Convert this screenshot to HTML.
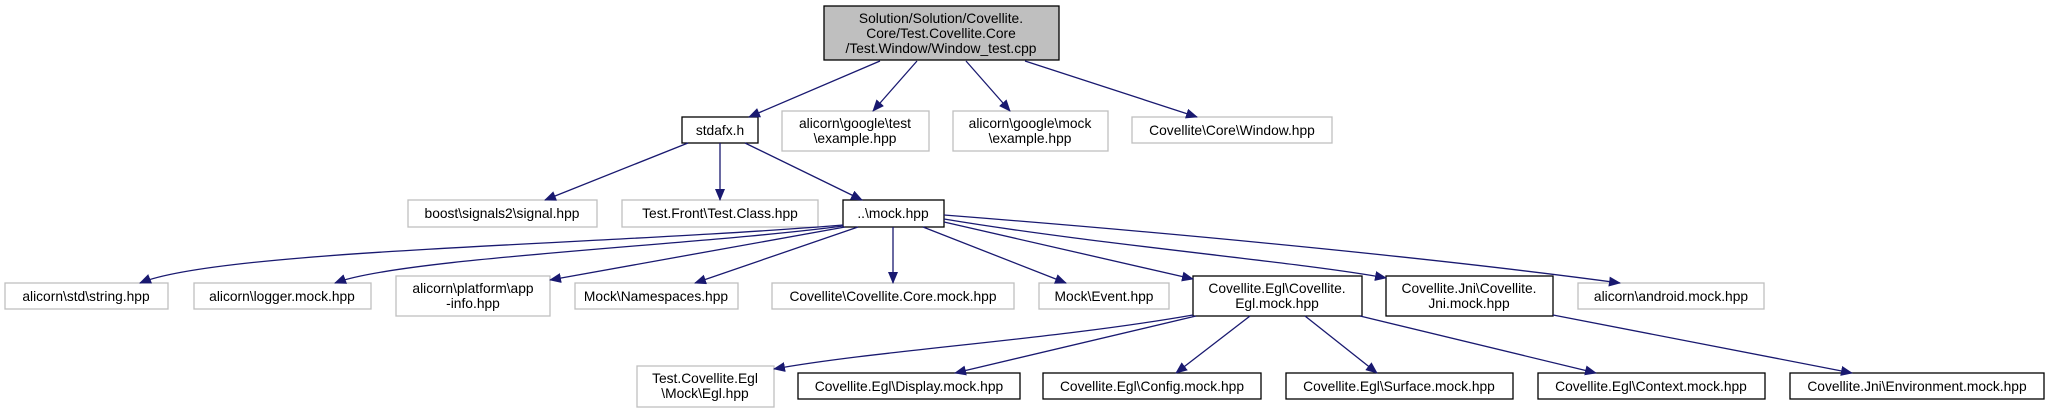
<!DOCTYPE html>
<html><head><meta charset="utf-8"><style>
html,body{margin:0;padding:0;background:#fff;}
svg{display:block}
text{font-family:"Liberation Sans",sans-serif;font-size:13.8px;fill:#000;text-anchor:middle}
.g{fill:#fff;stroke:#bfbfbf;stroke-width:1.3}
.b{fill:#fff;stroke:#000;stroke-width:1.3}
.e{fill:none;stroke:#191970;stroke-width:1.3;marker-end:url(#a)}
</style></head><body>
<svg width="2049" height="413" viewBox="0 0 2049 413">
<defs><marker id="a" markerWidth="12" markerHeight="10" refX="11" refY="5" orient="auto" markerUnits="userSpaceOnUse"><path d="M0,0 L12,5 L0,10 z" fill="#191970"/></marker></defs>
<rect x="824" y="6" width="235" height="54" fill="#bfbfbf" stroke="#000" stroke-width="1.3"/>
<text x="941" y="23">Solution/Solution/Covellite.</text>
<text x="941" y="38">Core/Test.Covellite.Core</text>
<text x="941" y="53">/Test.Window/Window_test.cpp</text>

<rect class="b" x="682" y="117" width="76" height="26"/><text x="720" y="135">stdafx.h</text>
<rect class="g" x="782" y="111" width="147" height="40"/><text x="855" y="128">alicorn\google\test</text><text x="855" y="143">\example.hpp</text>
<rect class="g" x="953" y="111" width="155" height="40"/><text x="1030" y="128">alicorn\google\mock</text><text x="1030" y="143">\example.hpp</text>
<rect class="g" x="1132" y="117" width="200" height="26"/><text x="1232" y="135">Covellite\Core\Window.hpp</text>

<rect class="g" x="408" y="200" width="189" height="27"/><text x="502" y="218">boost\signals2\signal.hpp</text>
<rect class="g" x="622" y="200" width="196" height="27"/><text x="720" y="218">Test.Front\Test.Class.hpp</text>
<rect class="b" x="843" y="200" width="101" height="27"/><text x="893" y="218">..\mock.hpp</text>

<rect class="g" x="5" y="283" width="163" height="26"/><text x="86" y="301">alicorn\std\string.hpp</text>
<rect class="g" x="194" y="283" width="177" height="26"/><text x="282" y="301">alicorn\logger.mock.hpp</text>
<rect class="g" x="396" y="276" width="154" height="40"/><text x="473" y="293">alicorn\platform\app</text><text x="473" y="308">-info.hpp</text>
<rect class="g" x="575" y="283" width="163" height="26"/><text x="656" y="301">Mock\Namespaces.hpp</text>
<rect class="g" x="772" y="283" width="242" height="26"/><text x="893" y="301">Covellite\Covellite.Core.mock.hpp</text>
<rect class="g" x="1039" y="283" width="130" height="26"/><text x="1104" y="301">Mock\Event.hpp</text>
<rect class="b" x="1193" y="276" width="169" height="40"/><text x="1277" y="293">Covellite.Egl\Covellite.</text><text x="1277" y="308">Egl.mock.hpp</text>
<rect class="b" x="1386" y="276" width="167" height="40"/><text x="1469" y="293">Covellite.Jni\Covellite.</text><text x="1469" y="308">Jni.mock.hpp</text>
<rect class="g" x="1578" y="283" width="186" height="26"/><text x="1671" y="301">alicorn\android.mock.hpp</text>

<rect class="g" x="637" y="366" width="137" height="41"/><text x="705" y="383">Test.Covellite.Egl</text><text x="705" y="398">\Mock\Egl.hpp</text>
<rect class="b" x="798" y="373" width="222" height="26"/><text x="909" y="391">Covellite.Egl\Display.mock.hpp</text>
<rect class="b" x="1043" y="373" width="218" height="26"/><text x="1152" y="391">Covellite.Egl\Config.mock.hpp</text>
<rect class="b" x="1286" y="373" width="227" height="26"/><text x="1399" y="391">Covellite.Egl\Surface.mock.hpp</text>
<rect class="b" x="1538" y="373" width="227" height="26"/><text x="1651" y="391">Covellite.Egl\Context.mock.hpp</text>
<rect class="b" x="1790" y="373" width="254" height="26"/><text x="1917" y="391">Covellite.Jni\Environment.mock.hpp</text>

<path class="e" d="M880,61 L749,117"/>
<path class="e" d="M917,61 L873,111"/>
<path class="e" d="M966,61 L1010,111"/>
<path class="e" d="M1025,61 L1197,117"/>
<path class="e" d="M688,143 L545,200"/>
<path class="e" d="M720,143 L720,200"/>
<path class="e" d="M745,143 L862,200"/>
<path class="e" d="M843,225 C600,245 220,250 140,283"/>
<path class="e" d="M843,226 C700,245 400,258 335,283"/>
<path class="e" d="M845,227 L550,280"/>
<path class="e" d="M858,227 L695,283"/>
<path class="e" d="M893,227 L893,283"/>
<path class="e" d="M923,227 L1066,283"/>
<path class="e" d="M944,222 L1193,279"/>
<path class="e" d="M944,219 C1100,245 1300,262 1386,278"/>
<path class="e" d="M944,215 C1200,235 1450,260 1620,283"/>
<path class="e" d="M1193,315 C1050,340 880,350 774,369"/>
<path class="e" d="M1196,316 L955,373"/>
<path class="e" d="M1250,316 L1176,373"/>
<path class="e" d="M1305,316 L1377,373"/>
<path class="e" d="M1360,316 L1596,373"/>
<path class="e" d="M1553,315 L1852,373"/>
</svg>
</body></html>
